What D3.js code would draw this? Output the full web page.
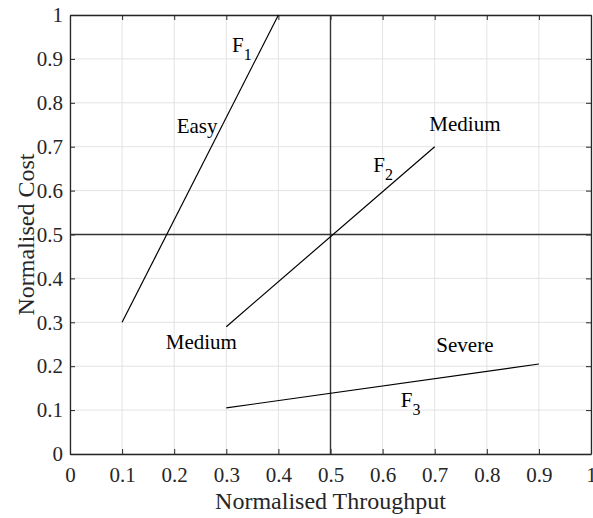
<!DOCTYPE html>
<html><head><meta charset="utf-8">
<script src="https://cdn.jsdelivr.net/npm/d3@7"></script>
<style>body{margin:0;background:#fff}svg{display:block}</style>
</head><body><svg id="c" width="593" height="518"></svg>
<script>
const xTicks = [0,0.1,0.2,0.3,0.4,0.5,0.6,0.7,0.8,0.9,1];
const yTicks = [0,0.1,0.2,0.3,0.4,0.5,0.6,0.7,0.8,0.9,1];
const tickLabels = ["0","0.1","0.2","0.3","0.4","0.5","0.6","0.7","0.8","0.9","1"];
const seriesNames = ["F1","F2","F3"];
const f1 = [[0.1,0.3],[0.4,1.0]];
const f2 = [[0.3,0.29],[0.7,0.70]];
const f3 = [[0.3,0.105],[0.9,0.205]];
const refX = 0.5, refY = 0.5;
const labels = [
  {t:"Easy", x:0.244, y:0.732},
  {t:"Medium", x:0.758, y:0.736},
  {t:"Medium", x:0.252, y:0.239},
  {t:"Severe", x:0.758, y:0.232},
];
const fLabels = [
  {t:"F", s:"1", x:0.311, y:0.916},
  {t:"F", s:"2", x:0.582, y:0.642},
  {t:"F", s:"3", x:0.635, y:0.107},
];
const FONT = '"Liberation Serif","Times New Roman",serif';

const svg = d3.select("#c");
const L=70, R=591, T=15, B=454;
const x = d3.scaleLinear().domain([0,1]).range([L,R]);
const y = d3.scaleLinear().domain([0,1]).range([B,T]);

// grid
svg.append("g").selectAll("line").data(xTicks).join("line")
  .attr("x1",d=>x(d)).attr("x2",d=>x(d)).attr("y1",T).attr("y2",B)
  .attr("stroke","#e3e3e3").attr("stroke-width",1);
svg.append("g").selectAll("line").data(yTicks).join("line")
  .attr("y1",d=>y(d)).attr("y2",d=>y(d)).attr("x1",L).attr("x2",R)
  .attr("stroke","#e3e3e3").attr("stroke-width",1);

// axes
const fmt = (d,i)=>tickLabels[i];
const ax = svg.append("g").attr("transform",`translate(0,${B})`)
  .call(d3.axisBottom(x).tickValues(xTicks).tickFormat(fmt).tickSizeInner(-5).tickSizeOuter(0).tickPadding(13));
const ay = svg.append("g").attr("transform",`translate(${L},0)`)
  .call(d3.axisLeft(y).tickValues(yTicks).tickFormat(fmt).tickSizeInner(-5).tickSizeOuter(0).tickPadding(7));
const at = svg.append("g").attr("transform",`translate(0,${T})`)
  .call(d3.axisTop(x).tickValues(xTicks).tickFormat("").tickSizeInner(-5).tickSizeOuter(0));
const ar = svg.append("g").attr("transform",`translate(${R},0)`)
  .call(d3.axisRight(y).tickValues(yTicks).tickFormat("").tickSizeInner(-5).tickSizeOuter(0));
[ax,ay,at,ar].forEach(g=>{
  g.attr("font-family",null).attr("font-size",null);
  g.select(".domain").attr("stroke","#262626").attr("stroke-width",1.3);
  g.selectAll(".tick line").attr("stroke","#262626").attr("stroke-width",1);
  g.selectAll(".tick text").style("font-size","21px").style("font-family",FONT).style("fill","#262626");
});

// reference lines
svg.append("line").attr("x1",x(0)).attr("x2",x(1)).attr("y1",y(refY)).attr("y2",y(refY))
  .attr("stroke","#333").attr("stroke-width",1.4);
svg.append("line").attr("x1",x(refX)).attr("x2",x(refX)).attr("y1",y(0)).attr("y2",y(1))
  .attr("stroke","#333").attr("stroke-width",1.4);

// series
const line = d3.line().x(d=>x(d[0])).y(d=>y(d[1]));
[f1,f2,f3].forEach((s,i)=>{
  svg.append("path").datum(s).attr("d",line).attr("fill","none")
    .attr("stroke","#000").attr("stroke-width",1.2).attr("class",seriesNames[i]);
});

// labels
svg.append("g").selectAll("text").data(labels).join("text")
  .attr("x",d=>x(d.x)).attr("y",d=>y(d.y)).attr("text-anchor","middle")
  .style("font-size","21px").style("font-family",FONT).style("fill","#000").text(d=>d.t);
const fl = svg.append("g").selectAll("text").data(fLabels).join("text")
  .attr("x",d=>x(d.x)).attr("y",d=>y(d.y))
  .style("font-size","21px").style("font-family",FONT).style("fill","#000");
fl.append("tspan").text(d=>d.t);
fl.append("tspan").attr("dy",8).style("font-size","16px").text(d=>d.s);

// axis titles
svg.append("text").attr("x",(L+R)/2).attr("y",509).attr("text-anchor","middle")
  .style("font-size","24px").style("font-family",FONT).style("fill","#262626").text("Normalised Throughput");
svg.append("text").attr("transform",`translate(34,${(T+B)/2}) rotate(-90)`).attr("text-anchor","middle")
  .style("font-size","24px").style("font-family",FONT).style("fill","#262626").text("Normalised Cost");
</script></body></html>
